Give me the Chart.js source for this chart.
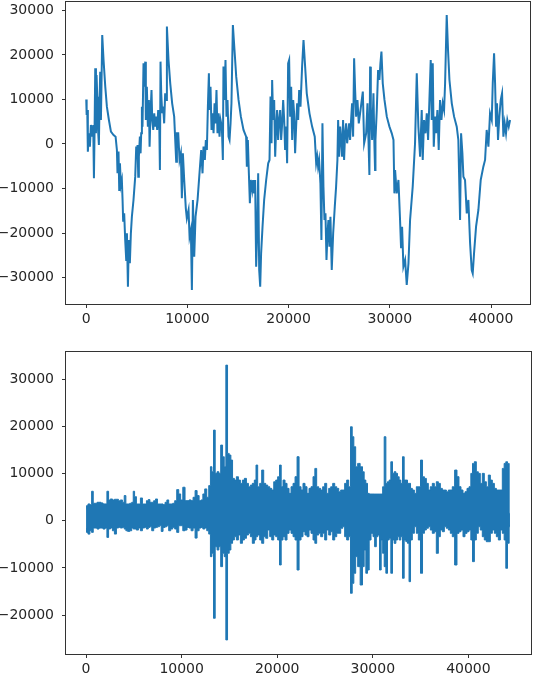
<!DOCTYPE html>
<html>
<head>
<meta charset="utf-8">
<script src="https://cdn.jsdelivr.net/npm/chart.js@4"></script>
<style>
  body { margin: 0; background: #fff; }
  #wrap { position: relative; width: 534px; height: 678px; }
  canvas { position: absolute; left: 0; }
  #topChart { top: 0; }
  #bottomChart { top: 340px; }
</style>
</head>
<body>
<div id="wrap">
  <canvas id="topChart" width="534" height="335"></canvas>
  <canvas id="bottomChart" width="534" height="338"></canvas>
</div>
<script>
// tick labels
const xTicks = [0, 10000, 20000, 30000, 40000]
const topYTicks = [-30000, -20000, -10000, 0, 10000, 20000, 30000]
const bottomYTicks = [-20000, -10000, 0, 10000, 20000, 30000]

// top signal: [sample, value]
const topSignal = [
  [0, 10000], [40, 6500], [100, 7640], [160, -1720], [260, 2400], [360, -600], [460, 4270],
  [590, 1650], [690, 4270], [760, -7710], [820, 2400], [890, 17000], [960, 2400], [1020, 15500],
  [1090, 10640], [1150, 3900], [1250, -220], [1320, 9890], [1380, 16250], [1450, 5390],
  [1510, 13630], [1580, 24500], [1710, 18880], [1880, 12880], [2040, 8390], [2240, 5390],
  [2440, 2770], [2700, 2020], [2900, 1650], [3030, -1350], [3090, -6590], [3190, -1720],
  [3260, -10340], [3330, -4340], [3420, -9210], [3520, -8090], [3590, -12580], [3650, -17450],
  [3750, -15580], [3850, -21570], [3950, -26070], [4020, -20070], [4120, -32060], [4210, -21570],
  [4310, -26810], [4410, -20070], [4510, -16330], [4670, -12580], [4840, -7340], [4940, -600],
  [5000, -3220], [5070, -220], [5140, -7340], [5200, -2850], [5300, 1650], [5370, -2100],
  [5430, 2400], [5500, 8390], [5560, 3900], [5660, 18130], [5760, 12880], [5830, 18500],
  [5890, 5390], [5990, 12880], [6090, 3900], [6190, 9890], [6260, -600], [6350, 6890],
  [6450, 12130], [6520, 5390], [6620, 3150], [6720, 6890], [6810, 3900], [6910, 6140],
  [7010, 3150], [7110, 7640], [7210, 5390], [7280, -5840], [7340, 18500], [7410, 11390],
  [7510, 6890], [7600, 8390], [7700, 4640], [7800, 11390], [7900, 9890], [7970, 26370],
  [8130, 18880], [8300, 13630], [8490, 9140], [8690, 6140], [8890, -3970], [8960, 2400],
  [9090, 2400], [9220, -3590], [9350, -2100], [9450, -12210], [9550, -2100], [9680, -8090],
  [9840, -14460], [9940, -16700], [10110, -14830], [10210, -20820], [10340, -19320],
  [10440, -32810], [10540, -12580], [10670, -25320], [10800, -16330], [11000, -12580],
  [11190, -6590], [11360, -1350], [11490, -6590], [11590, -600], [11720, -3590], [11820, 900],
  [11920, -1350], [12020, 8390], [12120, 15880], [12180, 7640], [12280, 12880], [12380, 3150],
  [12480, 6890], [12580, 2400], [12680, 9140], [12770, 4640], [12870, 12130], [12970, 2400],
  [13070, 6890], [13170, 1650], [13270, 5390], [13400, 3900], [13500, -3590], [13560, 17380],
  [13660, 9890], [13760, 18880], [13860, 6140], [13960, 9890], [14060, 1650], [14160, 900],
  [14260, 4640], [14350, 9140], [14490, 26740], [14650, 21120], [14820, 15130], [15050, 9890],
  [15280, 6140], [15540, 3150], [15800, 1650], [15870, -5090], [15970, 900], [16070, -6590],
  [16170, -13330], [16260, -8090], [16400, -10340], [16490, -8090], [16590, -11090],
  [16690, -8090], [16790, -27560], [16890, -20070], [16990, -6590], [17090, -28310],
  [17190, -32060], [17280, -24570], [17420, -18580], [17580, -12580], [17780, -8090],
  [17980, -4340], [18110, -3590], [18210, 10640], [18310, 150], [18370, 14380], [18470, 5390],
  [18570, 9890], [18670, -2850], [18770, 3900], [18860, 7640], [18960, 900], [19060, 5390],
  [19160, 7640], [19260, 900], [19360, 4640], [19460, 9890], [19560, 5390], [19650, -1350],
  [19750, 3900], [19850, -4340], [19950, 18130], [20050, 18880], [20150, 6140], [20250, 12880],
  [20350, 900], [20450, 9890], [20540, 6890], [20640, -2100], [20740, 3900], [20840, 9140],
  [20940, 5390], [21040, 12130], [21170, 8390], [21330, 17380], [21470, 23370], [21630, 17380],
  [21790, 11390], [22060, 6890], [22320, 3900], [22580, 1650], [22720, -4340], [22820, -2850],
  [22910, -5090], [23010, -3590], [23140, -8840], [23240, -21570], [23340, 4640], [23440, -9590],
  [23540, -17080], [23640, -15580], [23740, -26070], [23840, -20070], [23930, -17080],
  [24030, -23070], [24130, -16330], [24260, -28310], [24400, -20070], [24560, -14080],
  [24690, -9590], [24820, -3590], [24890, 5390], [24990, -2850], [25090, 3900], [25190, 900],
  [25280, -2850], [25380, 5390], [25480, -3590], [25580, 2400], [25680, 4640], [25780, 150],
  [25880, 2400], [25980, 4640], [26070, 900], [26170, 5390], [26270, 9140], [26370, 1650],
  [26470, 19250], [26570, 12130], [26670, 6140], [26800, 9890], [26930, 4640], [27060, 6890],
  [27330, 11760], [27460, 150], [27660, 2400], [27790, 9140], [27890, 900], [27980, -6970],
  [28050, 17380], [28120, 8390], [28250, 900], [28380, 11390], [28480, -600], [28540, -5840],
  [28580, 900], [28710, 7640], [28840, 16630], [28970, 14380], [29070, 18130], [29170, 20750],
  [29300, 13630], [29470, 9890], [29700, 6140], [29960, 3900], [30190, 2400], [30360, 900],
  [30450, -11090], [30520, -5840], [30680, -11090], [30850, -8090], [31010, -17080],
  [31110, -23440], [31210, -18580], [31340, -27560], [31510, -26070], [31670, -31680],
  [31840, -26810], [32000, -17080], [32260, -9590], [32490, 150], [32660, 15880], [32820, 3900],
  [32990, -2850], [33150, 7640], [33250, -3590], [33380, 5390], [33520, 2400], [33650, 6890],
  [33780, 900], [33910, 9890], [34040, 18880], [34140, 5390], [34240, 18130], [34340, -600],
  [34470, 6140], [34570, 2400], [34700, 7640], [34830, -1350], [34960, 9890], [35100, 5390],
  [35230, 9140], [35360, 7640], [35460, 13630], [35620, 28990], [35750, 21120], [35890, 14380],
  [36120, 9140], [36350, 6140], [36610, 3900], [36770, 900], [36940, -17080], [37040, 2400],
  [37170, -2100], [37270, -7340], [37430, -8090], [37600, -15580], [37760, -12580],
  [37930, -22320], [38090, -28310], [38190, -29060], [38320, -24570], [38520, -18580],
  [38750, -14830], [38980, -8090], [39240, -5090], [39410, -3590], [39570, 3150], [39740, -600],
  [39900, 6890], [40070, 5390], [40170, 13630], [40300, 20370], [40400, 13630], [40500, 3900],
  [40590, 9140], [40690, 900], [40820, 6140], [40960, 9890], [41090, 11390], [41220, 1650],
  [41350, 4640], [41480, 2400], [41610, 5390], [41750, 3900], [41880, 5390]
]

// bottom signal, dense: [sample, upper edge, lower edge]
const bottomBand = [
  [0, 2480, -1420], [100, 3190, -2480], [300, 3550, -2840], [500, 3400, -2130], [660, 6240, -2480],
  [840, 3690, -1560], [1050, 3690, -1560], [1250, 3900, -1770], [1460, 3900, -1560],
  [1670, 3760, -1560], [1880, 3550, -1770], [2090, 3550, -1560], [2270, 6240, -3550],
  [2440, 4400, -1770], [2650, 4610, -1560], [2860, 4400, -2130], [3070, 4540, -2840],
  [3280, 4540, -1560], [3490, 4250, -1420], [3700, 4400, -1560], [3900, 3900, -1420],
  [4080, 5320, -1770], [4250, 3550, -2130], [4460, 3550, -2270], [4670, 3690, -2130],
  [4880, 3900, -1560], [4990, 6240, -1770], [5160, 5100, -1770], [5370, 3550, -1990],
  [5580, 3550, -1560], [5790, 4820, -2130], [6000, 3550, -1560], [6210, 3550, -1420],
  [6420, 4250, -1770], [6590, 4470, -1420], [6770, 3900, -1280], [6970, 3900, -2130],
  [7180, 4250, -1560], [7360, 4610, -1420], [7570, 3550, -1280], [7780, 3550, -1060],
  [7950, 3550, -2270], [8160, 3400, -1420], [8370, 3900, -1280], [8540, 4400, -1060],
  [8750, 3550, -2130], [8960, 3550, -1770], [9170, 3690, -1420], [9380, 4250, -1770],
  [9590, 6590, -2480], [9800, 5670, -1060], [9990, 4400, -1060], [10250, 7090, -2130],
  [10460, 4250, -1990], [10670, 4250, -1420], [10880, 4400, -1560], [11090, 4250, -2130],
  [11300, 4960, -1560], [11510, 6380, -3690], [11720, 5320, -2130], [11930, 4250, -1560],
  [12130, 4400, -1420], [12310, 5670, -1770], [12520, 6740, -1560], [12730, 4960, -2130],
  [12940, 7440, -2840], [13080, 11440, -7620], [13250, 10380, -6920], [13420, 19200, -20690],
  [13600, 10030, -5510], [13810, 10380, -6210], [13980, 10030, -5510], [14190, 16030, -9740],
  [14370, 13560, -6920], [14540, 11440, -7620], [14710, 32970, -25270], [14890, 14260, -6920],
  [15060, 13910, -6210], [15240, 12850, -4800], [15410, 8970, -4090], [15620, 8610, -3390],
  [15830, 9320, -4090], [16040, 8610, -3040], [16250, 7910, -4800], [16460, 8610, -4090],
  [16670, 8970, -3740], [16880, 7910, -3040], [17090, 7200, -2680], [17290, 7550, -3390],
  [17500, 7910, -4800], [17710, 8610, -4090], [17850, 11790, -3390], [18060, 7200, -3040],
  [18270, 7910, -4090], [18480, 10730, -4800], [18690, 7910, -3390], [18900, 7550, -3740],
  [19110, 7200, -1980], [19320, 6850, -3390], [19530, 6500, -4090], [19740, 8260, -3040],
  [19940, 8610, -3390], [20150, 9320, -4090], [20330, 11790, -9390], [20500, 7200, -4090],
  [20710, 8610, -3390], [20920, 7910, -4090], [21130, 6850, -2680], [21340, 5790, -1980],
  [21550, 7200, -2680], [21760, 7910, -3390], [21970, 9320, -4090], [22180, 13560, -10450],
  [22390, 7200, -4090], [22590, 6500, -3390], [22800, 7910, -2330], [23010, 7200, -3040],
  [23220, 5790, -3390], [23430, 6850, -1980], [23640, 7200, -2680], [23850, 9320, -4090],
  [24020, 11080, -4800], [24230, 7200, -3040], [24440, 6850, -2680], [24650, 6500, -3390],
  [24860, 7200, -2680], [25070, 7910, -4090], [25280, 5790, -1980], [25490, 6850, -3040],
  [25700, 7200, -2330], [25910, 7910, -4090], [26120, 7200, -3390], [26330, 6850, -2680],
  [26540, 6140, -2680], [26740, 6500, -1620], [26950, 6500, -1270], [27160, 7910, -3390],
  [27370, 8610, -4090], [27580, 7200, -3390], [27760, 19910, -15390], [27930, 17790, -13270],
  [28100, 15670, -11150], [28310, 11440, -7620], [28520, 12140, -9740], [28830, 11440, -13630],
  [29010, 10380, -9740], [29180, 8610, -6210], [29360, 7910, -11150], [29530, 5790, -10450],
  [29710, 5650, -4090], [29920, 5650, -2680], [30120, 5650, -3390], [30260, 5650, -5510],
  [30470, 5650, -3390], [30610, 5650, -3040], [30790, 5650, -10450], [30960, 5650, -4090],
  [31100, 7200, -6920], [31280, 17790, -9740], [31450, 7910, -11150], [31620, 8260, -4090],
  [31800, 8610, -3740], [31970, 12500, -11150], [32150, 10030, -4090], [32320, 10380, -4800],
  [32500, 10030, -4090], [32670, 9320, -3390], [32840, 8610, -4090], [33020, 7910, -3390],
  [33190, 13560, -12210], [33370, 8610, -4090], [33540, 8610, -4450], [33720, 7910, -4800],
  [33860, 7910, -12920], [34030, 6850, -4090], [34240, 6500, -2680], [34450, 5790, -1270],
  [34660, 7200, -2680], [34870, 7200, -4090], [35110, 12850, -11150], [35290, 9320, -2680],
  [35500, 8970, -1980], [35700, 7910, -1620], [35910, 6500, -1270], [36120, 7200, -1980],
  [36330, 7910, -2680], [36540, 7200, -2330], [36750, 8260, -6920], [36960, 7910, -3390],
  [37170, 6850, -1980], [37380, 6500, -2330], [37590, 6500, -1270], [37800, 6140, -1620],
  [38010, 6500, -1980], [38210, 6500, -2680], [38420, 7200, -3390], [38700, 10730, -9390],
  [38910, 9320, -2680], [39120, 7200, -2330], [39330, 6500, -1980], [39540, 5790, -3390],
  [39750, 6140, -2680], [39960, 6850, -2330], [40170, 7200, -1980], [40340, 10030, -4090],
  [40520, 12140, -8680], [40730, 12500, -4090], [40930, 10380, -2680], [41140, 10030, -1270],
  [41350, 7910, -1980], [41560, 10030, -3390], [41770, 8260, -4090], [41980, 7200, -4450],
  [42190, 9670, -4450], [42400, 8610, -2680], [42610, 7910, -1980], [42820, 6850, -2680],
  [43030, 6500, -3390], [43240, 6500, -4090], [43450, 6500, -1980], [43650, 11080, -2680],
  [43830, 12140, -4090], [44000, 12500, -10100], [44180, 12140, -4800], [44350, 1550, -1270]
]

const blue = "#1f77b4"
const ink = "#262626"
const spine = "#333333"

Chart.defaults.font.family = "'DejaVu Sans', sans-serif"
Chart.defaults.font.size = 14
Chart.defaults.color = ink

const fmt = v => String(v).replace("-", "\u2212")

// matplotlib-like box round the plot area
const frame = {
  id: "frame",
  afterDraw(chart) {
    const a = chart.chartArea
    const ctx = chart.ctx
    ctx.save()
    ctx.strokeStyle = spine
    ctx.lineWidth = 1
    ctx.strokeRect(Math.round(a.left) - 0.5, Math.round(a.top) - 0.5,
      Math.round(a.right - a.left) + 1, Math.round(a.bottom - a.top) + 1)
    ctx.restore()
  }
}

function scales(xMin, xMax, yMin, yMax, yTicks, xHeight) {
  return {
    x: {
      type: "linear", min: xMin, max: xMax,
      border: { display: false },
      grid: { drawOnChartArea: false, tickLength: 4, color: spine },
      ticks: { padding: 3, maxRotation: 0, autoSkip: false, callback: fmt },
      afterBuildTicks: s => { s.ticks = xTicks.map(v => ({ value: v })) },
      afterFit: s => { s.height = xHeight; s.paddingLeft = 0; s.paddingRight = 0 }
    },
    y: {
      min: yMin, max: yMax,
      border: { display: false },
      grid: { drawOnChartArea: false, tickLength: 4, color: spine },
      ticks: { padding: 8, autoSkip: false, callback: fmt },
      afterBuildTicks: s => { s.ticks = yTicks.map(v => ({ value: v })) },
      afterFit: s => { s.width = 66; s.paddingTop = 0; s.paddingBottom = 0 }
    }
  }
}

const common = {
  responsive: false,
  animation: false,
  devicePixelRatio: 1,
  plugins: { legend: { display: false }, tooltip: { enabled: false } },
  elements: { point: { radius: 0 } }
}

new Chart(document.getElementById("topChart"), {
  type: "line",
  data: {
    datasets: [{
      data: topSignal.map(p => ({ x: p[0], y: p[1] })),
      borderColor: blue,
      borderWidth: 2,
      fill: false,
      tension: 0
    }]
  },
  options: {
    ...common,
    layout: { padding: { top: 2, right: 4, left: 0, bottom: 0 } },
    scales: scales(-2000, 43850, -35950, 31900, topYTicks, 31)
  },
  plugins: [frame]
})

new Chart(document.getElementById("bottomChart"), {
  type: "line",
  data: {
    datasets: [
      {
        data: bottomBand.map(p => ({ x: p[0], y: p[1] })),
        borderColor: blue, borderWidth: 1, stepped: "middle", fill: false
      },
      {
        data: bottomBand.map(p => ({ x: p[0], y: p[2] })),
        borderColor: blue, borderWidth: 1, stepped: "middle",
        fill: "-1", backgroundColor: blue
      }
    ]
  },
  options: {
    ...common,
    layout: { padding: { top: 12, right: 3, left: 0, bottom: 0 } },
    scales: scales(-2100, 46550, -28250, 35750, bottomYTicks, 24)
  },
  plugins: [frame]
})
</script>
</body>
</html>
